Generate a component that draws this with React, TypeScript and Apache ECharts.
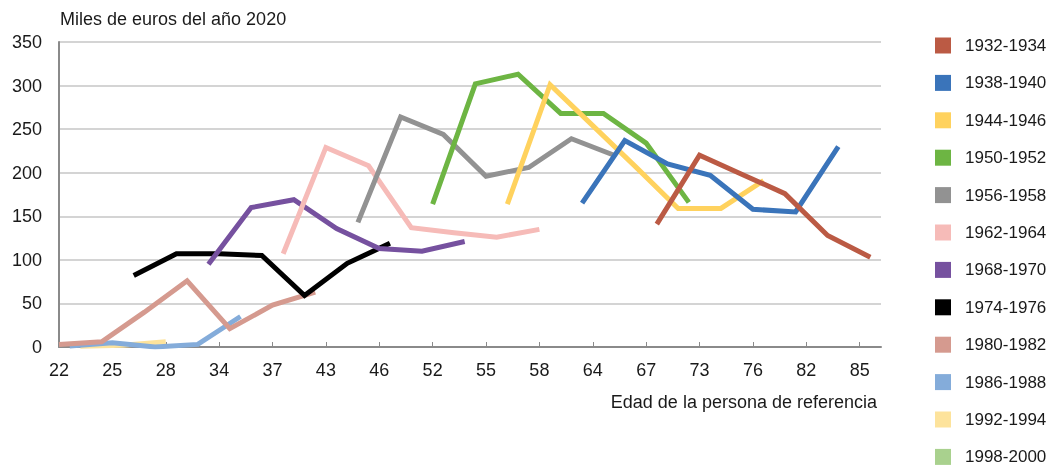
import React, { useEffect, useRef } from "react";
import * as echarts from "echarts";

// Age labels shown on the x axis (one every 5 slots of the category axis)
const ageLabels = ["22", "25", "28", "34", "37", "43", "46", "52", "55", "58", "64", "67", "73", "76", "82", "85"];
const slotCount = 78;
const labelEvery = 5;

const cohorts = ["1932-1934", "1938-1940", "1944-1946", "1950-1952", "1956-1958", "1962-1964", "1968-1970", "1974-1976", "1980-1982", "1986-1988", "1992-1994", "1998-2000"];
const colors = ["#bb5a44", "#3a74ba", "#ffd25e", "#6db543", "#929292", "#f6bbb8", "#76519f", "#000000", "#d59a8f", "#84acda", "#fde39c", "#a9d18e"];

// Starting slot of each cohort's line (points every 4 slots)
const startSlot = [56, 49, 42, 35, 28, 21, 14, 7, 0, 1, 2, 0];

// Values in thousands of 2020 euros
const v1932 = [141, 220, 198, 176, 128, 103];
const v1938 = [165, 237, 210, 197, 158, 155, 230];
const v1944 = [164, 301, 254, 207, 159, 159, 191];
const v1950 = [164, 302, 313, 268, 268, 234, 166];
const v1956 = [143, 264, 244, 196, 206, 239, 220];
const v1962 = [107, 229, 208, 137, 131, 126, 135];
const v1968 = [95, 160, 169, 136, 113, 110, 121];
const v1974 = [82, 107, 107, 105, 59, 96, 119];
const v1980 = [3, 6, 40, 76, 21, 48, 63];
const v1986 = [1, 5, 0, 3, 35];
const v1992 = [1, 2, 6];
const v1998: number[] = [];

const values = [v1932, v1938, v1944, v1950, v1956, v1962, v1968, v1974, v1980, v1986, v1992, v1998];

const FONT = "'Liberation Sans', Arial, Helvetica, sans-serif";

export default function App() {
  const ref = useRef<HTMLDivElement>(null);
  useEffect(() => {
    if (!ref.current) return;
    const chart = echarts.init(ref.current, null, { renderer: "svg" });
    const categories = Array.from({ length: slotCount }, (_, i) =>
      i % labelEvery === 0 ? ageLabels[i / labelEvery] ?? "" : ""
    );
    const series = cohorts.map((name, i) => ({
      name,
      type: "line",
      data: values[i].map((v, k) => [startSlot[i] + 4 * k, v]),
      symbol: "none",
      showSymbol: false,
      z: 2 + (cohorts.length - i),
      lineStyle: { width: 5, color: colors[i], cap: "butt", join: "miter" },
      itemStyle: { color: colors[i] },
    }));
    chart.setOption({
      animation: false,
      textStyle: { fontFamily: FONT },
      grid: { left: 59, right: 177, top: 42, bottom: 119, containLabel: false },
      xAxis: {
        type: "category",
        data: categories,
        boundaryGap: false,
        axisLine: { show: true, lineStyle: { color: "#8a8a8a", width: 2 } },
        axisTick: { show: true, inside: true, length: 5, interval: labelEvery - 1, lineStyle: { color: "#8a8a8a", width: 1 } },
        axisLabel: { interval: labelEvery - 1, color: "#1a1a1a", fontSize: 18, margin: 14, fontFamily: FONT },
        splitLine: { show: false },
      },
      yAxis: {
        type: "value",
        min: 0,
        max: 350,
        interval: 50,
        axisLine: { show: true, lineStyle: { color: "#8a8a8a", width: 2 } },
        axisTick: { show: false },
        axisLabel: { color: "#1a1a1a", fontSize: 18, margin: 17, fontFamily: FONT },
        splitLine: { show: true, lineStyle: { color: "#c6c6c6", width: 1.5 } },
      },
      legend: {
        orient: "vertical",
        left: 935,
        top: 37,
        padding: 0,
        icon: "rect",
        itemWidth: 16,
        itemHeight: 16,
        itemGap: 20.4,
        data: cohorts,
        textStyle: { color: "#1a1a1a", fontSize: 17, fontFamily: FONT, padding: [0, 0, 0, 9] },
        selectedMode: false,
      },
      graphic: [
        {
          type: "text",
          left: 60,
          top: 10,
          style: { text: "Miles de euros del año 2020", fill: "#1a1a1a", font: `18px ${FONT}` },
        },
        {
          type: "text",
          right: 181,
          top: 393,
          style: { text: "Edad de la persona de referencia", fill: "#1a1a1a", font: `18px ${FONT}` },
        },
      ],
      series,
    });
    return () => chart.dispose();
  }, []);
  return <div ref={ref} style={{ position: "fixed", left: 0, top: 0, width: 1058, height: 466 }} />;
}
